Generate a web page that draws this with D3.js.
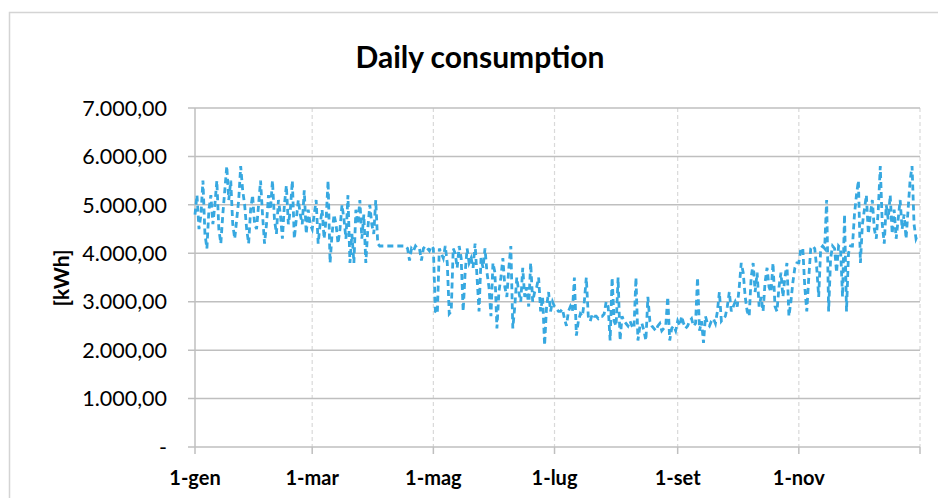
<!DOCTYPE html>
<html>
<head>
<meta charset="utf-8">
<script src="https://cdn.jsdelivr.net/npm/d3@7"></script>
<style>
  body { margin: 0; background: #fff; }
  svg { display: block; font-family: Lato, "Open Sans", sans-serif; }
</style>
</head>
<body>
<svg id="chart" width="938" height="498"></svg>
<script>
// daily values per month (kWh)
const jan = [4800,5200,4500,4800,5500,4400,4100, 4900,5200,4600,5000,5500,4500,4200,
  4800,5300,5800,5100,5500,4600,4300, 4700,5100,5800,5300,5000,4500,4200, 4900,5200,4600];
const feb = [4500,5000,5500,4800,4200,4600,5200, 4900,5500,4700,4400,5100,4800,4300,
  5000,5400,4600,4900,5500,4300,4700, 5100,4800,4600,5300,4400,4900,4600];
const mar = [4500,4800,5100,4200,4600,4900,4300, 4700,5500,3800,4400,4800,4600,4200,
  4500,5000,4700,4300,5200,3800,4400, 3800,4900,4600,5100,4300,4800,3800,4500,5000,4600];
const apr = [4400,5100,4200,4150,4150,4150,4150, 4150,4150,4150,4150,4150,4150,4150,
  4150,4150,4150,4100,3850,4100,4050, 4150,4100,4100,3850,4100,4150,4100, 4050,4150];
const may = [4100,2800,2750,4100,4000,3900,4150, 3800,2750,2800,4100,4000,3700,4150,
  3900,2800,3600,4100,3800,3900,3700, 4200,3500,2800,3900,3700,4100,3600, 3300,2700,3800];
const jun = [3600,2450,3200,3500,3900,3300,3100, 3700,4150,2450,2900,3500,3200,3000,
  3700,3100,3300,2900,3800,3000,3200, 3300,3500,2800,3100,2100,2900,3200, 2800,3000];
const jul = [2900,2850,2800,2800,2850,2650,2500, 2800,2900,2800,3500,2300,2600,2750,
  2700,3000,3500,2700,2600,2750,2700, 2700,2650,2700,2700,2750,3000,2900, 2200,3500,2600];
const aug = [2500,3500,2200,2700,2600,2550,2500, 2600,2500,2450,3500,2200,2500,2550,
  2400,2200,3100,2600,2500,2450,2400, 2500,2550,2400,2450,2500,3100,2200, 2450,2500,2400];
const sep = [2600,2500,2700,2550,2450,2500,2600, 2650,2500,2550,3500,2400,2600,2150,
  2700,2550,2500,2600,2650,2550,2800, 3200,2600,2650,2700,2900,3200,2800, 2900,3000];
const oct = [2900,3300,3800,3600,3100,2800,2700, 3500,3800,3200,3600,2900,3100,2800,
  3400,3700,3300,3200,3800,2900,2800, 3300,3600,3100,3500,3800,2700,3000, 3400,3700,3800];
const nov = [3800,4100,4100,3300,2800,3500,4100, 4150,4100,3700,3100,4100,4150,4100,
  5100,2800,3900,4150,4100,3600,4150, 4100,3100,4800,2800,4000,4150,4150, 4800,5200];
const dec = [5500,3800,4600,4900,5200,4400,4800, 5100,4500,4300,4900,5800,4600,4200,
  5000,4700,5200,4400,4900,4300,4700, 5100,4500,4800,4300,4900,5500,5800,4600,4300,4400];

const months = [jan, feb, mar, apr, may, jun, jul, aug, sep, oct, nov, dec];
const yTicks = [0, 1000, 2000, 3000, 4000, 5000, 6000, 7000];
const tickLabels = ["1-gen", "1-mar", "1-mag", "1-lug", "1-set", "1-nov"];
const year = 2015;

const data = [];
months.forEach((vals, m) => {
  vals.forEach((v, i) => data.push({ date: new Date(year, m, i + 1), value: v }));
});

const svg = d3.select("#chart");

// chart border
svg.append("rect")
  .attr("x", 9.5).attr("y", 12.5)
  .attr("width", 1000).attr("height", 1000)
  .attr("fill", "none").attr("stroke", "#d4d4d4").attr("stroke-width", 1.5);

const x = d3.scaleTime()
  .domain([new Date(year, 0, 1), new Date(year + 1, 0, 1)])
  .range([195, 920]);
const y = d3.scaleLinear().domain([0, 7000]).range([447, 108]);

const it = d3.formatLocale({ decimal: ",", thousands: ".", grouping: [3], currency: ["€", ""] });
const fmt = it.format(",.2f");

const xTicks = [0, 2, 4, 6, 8, 10, 12].map(m => new Date(year, m, 1));

// vertical dashed grid
svg.append("g").selectAll("line")
  .data(xTicks.slice(1))
  .join("line")
  .attr("x1", d => x(d)).attr("x2", d => x(d))
  .attr("y1", y(7000)).attr("y2", y(0))
  .attr("stroke", "#d9d9d9").attr("stroke-width", 1.2)
  .attr("stroke-dasharray", "4,3");

// horizontal grid + y tick marks
svg.append("g").selectAll("line")
  .data(yTicks)
  .join("line")
  .attr("x1", 188).attr("x2", 920)
  .attr("y1", d => y(d)).attr("y2", d => y(d))
  .attr("stroke", "#bfbfbf").attr("stroke-width", 1.5);

// y axis line
svg.append("line")
  .attr("x1", 195).attr("x2", 195)
  .attr("y1", y(7000)).attr("y2", y(0))
  .attr("stroke", "#bfbfbf").attr("stroke-width", 1.5);

// x tick marks
svg.append("g").selectAll("line")
  .data(xTicks)
  .join("line")
  .attr("x1", d => x(d)).attr("x2", d => x(d))
  .attr("y1", y(0)).attr("y2", y(0) + 7)
  .attr("stroke", "#bfbfbf").attr("stroke-width", 1.5);

// y labels
svg.append("g").selectAll("text")
  .data(yTicks)
  .join("text")
  .attr("x", 167).attr("y", d => y(d))
  .attr("dy", "0.36em")
  .attr("text-anchor", "end")
  .attr("font-size", 21.5)
  .attr("fill", "#000")
  .text(d => d === 0 ? "-" : fmt(d));

// x labels
svg.append("g").selectAll("text")
  .data(xTicks.slice(0, tickLabels.length))
  .join("text")
  .attr("x", d => x(d)).attr("y", 485)
  .attr("text-anchor", "middle")
  .attr("font-size", 20).attr("font-weight", "bold")
  .text((d, i) => tickLabels[i]);

// title
svg.append("text")
  .attr("x", 480).attr("y", 68)
  .attr("text-anchor", "middle")
  .attr("font-size", 30).attr("font-weight", "bold")
  .text("Daily consumption");

// y axis title
svg.append("text")
  .attr("transform", "translate(69,278) rotate(-90)")
  .attr("text-anchor", "middle")
  .attr("font-size", 21).attr("font-weight", "bold")
  .text("[kWh]");

// the series
const line = d3.line()
  .x(d => x(d.date))
  .y(d => y(d.value));

svg.append("path")
  .datum(data)
  .attr("d", line)
  .attr("fill", "none")
  .attr("stroke", "#37a8e0")
  .attr("stroke-width", 2.8)
  .attr("stroke-dasharray", "6,4");
</script>
</body>
</html>
